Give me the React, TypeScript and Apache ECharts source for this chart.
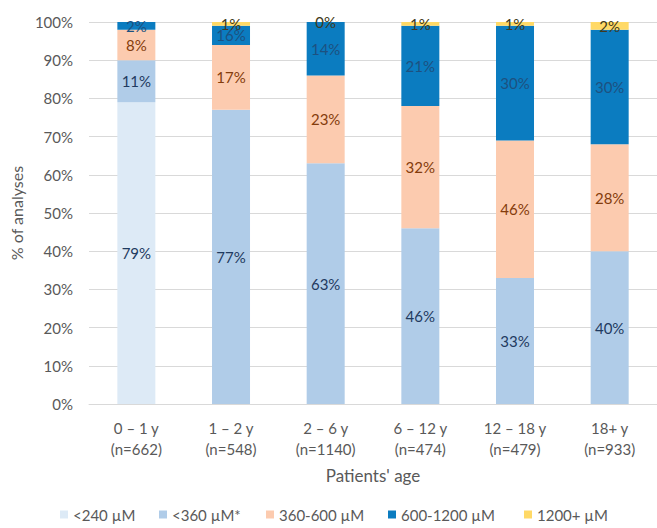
import React, { useEffect, useRef } from "react";
import * as echarts from "echarts";

const ageGroups = ["0 – 1 y", "1 – 2 y", "2 – 6 y", "6 – 12 y", "12 – 18 y", "18+ y"];
const sampleSizes = [662, 548, 1140, 474, 479, 933];

const seriesNames = ["<240 µM", "<360 µM*", "360-600 µM", "600-1200 µM", "1200+ µM"];

// segment heights (% of analyses) as drawn
const below240 = [79, null, null, null, null, null];
const below360 = [11, 77, 63, 46, 33, 40];
const from360to600 = [8, 17, 23, 32, 36, 28];
const from600to1200 = [2, 5, 14, 21, 30, 30];
const above1200 = [null, 1, 0, 1, 1, 2];

// printed data labels
const below240Labels = ["79%", "", "", "", "", ""];
const below360Labels = ["11%", "77%", "63%", "46%", "33%", "40%"];
const from360to600Labels = ["8%", "17%", "23%", "32%", "46%", "28%"];
const from600to1200Labels = ["2%", "16%", "14%", "21%", "30%", "30%"];
const above1200Labels = ["", "1%", "0%", "1%", "1%", "2%"];

const yTicks = [0, 10, 20, 30, 40, 50, 60, 70, 80, 90, 100];

const FONT = "Lato";

export default function App() {
  const ref = useRef<HTMLDivElement>(null);
  useEffect(() => {
    if (!ref.current) return;
    const chart = echarts.init(ref.current, null, { renderer: "svg" });
    const values = [below240, below360, from360to600, from600to1200, above1200];
    const labels = [below240Labels, below360Labels, from360to600Labels, from600to1200Labels, above1200Labels];
    const colors = ["#ddeaf6", "#b0cce8", "#fccbaf", "#0b7cc0", "#ffd966"];
    const labelColors = ["#1f3a60", "#1f3a60", "#843c0c", "#1d5180", "#3f3a20"];
    const legendX = [60, 159, 266, 388, 524];

    const series = values.map((v, i) => ({
      name: seriesNames[i],
      type: "bar",
      stack: "total",
      barWidth: 38,
      data: v.map((x) => (x === null ? "-" : x)),
      itemStyle: { color: colors[i] },
      label: {
        show: true,
        position: "inside",
        fontFamily: FONT,
        fontSize: 15,
        color: labelColors[i],
        formatter: (p: any) => labels[i][p.dataIndex],
      },
    }));

    chart.setOption({
      animation: false,
      textStyle: { fontFamily: FONT },
      grid: { left: 87, right: -4, top: 22, bottom: 124 },
      legend: seriesNames.map((n, i) => ({
        data: [n],
        left: legendX[i],
        top: 506,
        padding: 0,
        itemWidth: 8,
        itemHeight: 8,
        itemGap: 5,
        icon: "rect",
        textStyle: { fontFamily: FONT, fontSize: 15, lineHeight: 17, color: "#595959" },
      })),
      xAxis: {
        type: "category",
        data: ageGroups,
        name: "Patients' age",
        nameLocation: "middle",
        nameGap: 63,
        nameTextStyle: { fontFamily: FONT, fontSize: 17, color: "#595959" },
        axisLine: { lineStyle: { color: "#d9d9d9" } },
        axisTick: { show: false },
        axisLabel: {
          fontFamily: FONT,
          fontSize: 15,
          color: "#595959",
          lineHeight: 21,
          margin: 13,
          interval: 0,
          formatter: (v: string, idx: number) => `${v}\n(n=${sampleSizes[idx]})`,
        },
      },
      yAxis: {
        type: "value",
        min: yTicks[0],
        max: yTicks[yTicks.length - 1],
        interval: 10,
        name: "% of analyses",
        nameLocation: "middle",
        nameGap: 62,
        nameTextStyle: { fontFamily: FONT, fontSize: 16, color: "#595959" },
        axisLine: { show: false },
        axisTick: { show: false },
        splitLine: { lineStyle: { color: "#d9d9d9" } },
        axisLabel: {
          fontFamily: FONT,
          fontSize: 15,
          color: "#595959",
          margin: 16,
          formatter: "{value}%",
        },
      },
      series,
    });
    return () => chart.dispose();
  }, []);
  return <div ref={ref} style={{ width: 657, height: 528, position: "absolute", left: 0, top: 0 }} />;
}
